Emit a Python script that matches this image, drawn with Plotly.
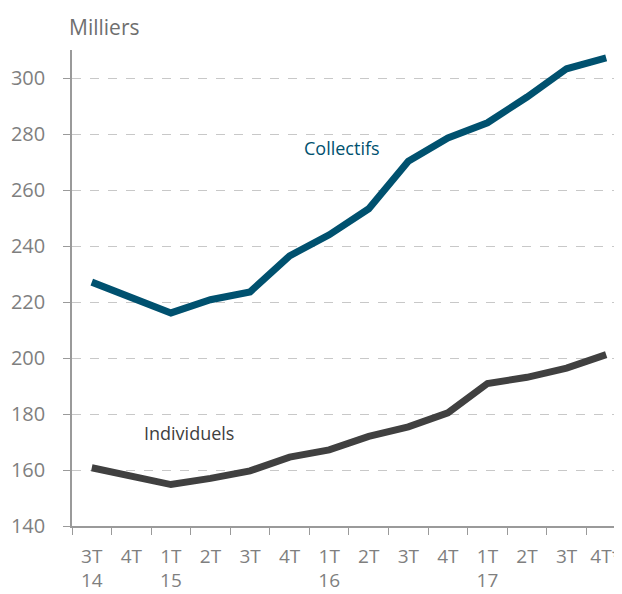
import plotly.graph_objects as go

quarters = ["3T<br>14", "4T", "1T<br>15", "2T", "3T", "4T", "1T<br>16", "2T",
            "3T", "4T", "1T<br>17", "2T", "3T", "4T*"]
collectifs = [227.1, 221.6, 216.1, 220.8, 223.6, 236.5, 244.0, 253.3,
              270.3, 278.6, 284.0, 293.2, 303.3, 307.2]
individuels = [160.8, 157.8, 154.8, 157.0, 159.7, 164.6, 167.2, 172.0,
               175.4, 180.4, 190.9, 193.1, 196.4, 201.2]
yticks = [140, 160, 180, 200, 220, 240, 260, 280, 300]

x = list(range(len(quarters)))
FONT = "Open Sans"
GREY = "#7f7f7f"

fig = go.Figure()
fig.add_trace(go.Scatter(x=x, y=collectifs, mode="lines", name="Collectifs",
                         line=dict(color="#00516f", width=7), showlegend=False))
fig.add_trace(go.Scatter(x=x, y=individuels, mode="lines", name="Individuels",
                         line=dict(color="#404040", width=7), showlegend=False))

fig.add_annotation(x=6.32, y=275, xref="x", yref="y", text="Collectifs",
                   showarrow=False, font=dict(family=FONT, size=18, color="#00516f"))
fig.add_annotation(x=2.46, y=173.2, xref="x", yref="y", text="Individuels",
                   showarrow=False, font=dict(family=FONT, size=18, color="#404040"))
fig.add_annotation(x=-0.01, y=1.0 + 23 / 476, xref="paper", yref="paper", text="Milliers",
                   xanchor="left", yanchor="middle", showarrow=False,
                   font=dict(family=FONT, size=21, color="#6f6f6f"))

fig.update_xaxes(range=[-0.5, 13.4], tickmode="array", tickvals=x, ticktext=quarters,
                 ticks="", showgrid=False, showline=True, linecolor="#9a9a9a", linewidth=1.5,
                 tickfont=dict(family=FONT, size=19, color=GREY),
                 minor=dict(tick0=-0.5, dtick=1, ticks="outside", ticklen=7,
                            tickcolor="#9a9a9a", showgrid=False),
                 ticklabelstandoff=12, ticklabeloverflow="allow",
                 automargin=False, zeroline=False)
fig.update_yaxes(range=[140, 310], tickmode="array", tickvals=yticks,
                 ticks="outside", ticklen=7, tickcolor="#9a9a9a",
                 showline=True, linecolor="#9a9a9a", linewidth=1.5,
                 showgrid=True, gridcolor="#c8c8c8", griddash="dash", gridwidth=1,
                 tickfont=dict(family=FONT, size=20, color=GREY),
                 ticklabelstandoff=14, automargin=False, zeroline=False)

# page body has an 8px margin, so the figure is sized/offset to compensate
fig.update_layout(width=614, height=586, margin=dict(l=64, r=0, t=42, b=68),
                  plot_bgcolor="white", paper_bgcolor="white",
                  font=dict(family=FONT))
fig.write_html("out.html")
